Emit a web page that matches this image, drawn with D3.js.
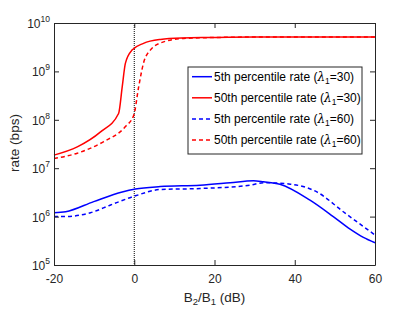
<!DOCTYPE html>
<html>
<head>
<meta charset="utf-8">
<script src="https://cdn.jsdelivr.net/npm/d3@7"></script>
<style>
  body { margin: 0; background: #fff; }
  text { font-family: "Liberation Sans", Arial, sans-serif; }
</style>
</head>
<body>
<div id="chart"></div>
<script>
// x positions (dB) and log10(rate) readings for each curve
const xRed30 = [-20, -14.2, -8.4, -3.9, -3.0, -2.2, -0.55, 2.3, 6.5, 12, 18.9, 30, 45, 60];
const yRed30 = [7.27, 7.44, 7.75, 8.13, 8.68, 9.17, 9.44, 9.58, 9.66, 9.69, 9.70, 9.71, 9.71, 9.71];

const xRed60 = [-20, -14.2, -7.6, -2.2, -0.1, 1.1, 2.3, 4.0, 7.3, 12.3, 20, 30, 45, 60];
const yRed60 = [7.20, 7.31, 7.55, 7.86, 8.10, 8.68, 9.17, 9.44, 9.61, 9.68, 9.70, 9.71, 9.71, 9.71];

const xBlue30 = [-20, -17.1, -10.1, -3.0, 0.3, 6.5, 16.4, 23.9, 29.7, 32.2, 36.3, 43.8, 49.6, 53.8, 57.1, 60];
const yBlue30 = [6.08, 6.10, 6.31, 6.51, 6.57, 6.62, 6.65, 6.70, 6.74, 6.72, 6.67, 6.34, 6.00, 5.74, 5.57, 5.46];

const xBlue60 = [-20, -17.6, -10.9, -5.9, 0.3, 6.5, 16.4, 28.9, 32.2, 38.9, 45.5, 52.1, 60];
const yBlue60 = [6.00, 6.00, 6.08, 6.24, 6.43, 6.56, 6.58, 6.65, 6.70, 6.67, 6.51, 6.10, 5.62];

const xTicks = [-20, 0, 20, 40, 60];
const yTickExps = [5, 6, 7, 8, 9, 10];

const legendLabels = [
  ["5th percentile rate (", "30)"],
  ["50th percentile rate (", "30)"],
  ["5th percentile rate (", "60)"],
  ["50th percentile rate (", "60)"]
];

const series = [
  {xs: xBlue30, ys: yBlue30, color: "#0000ff", dash: null},
  {xs: xRed30, ys: yRed30, color: "#ff0000", dash: null},
  {xs: xBlue60, ys: yBlue60, color: "#0000ff", dash: "4,3"},
  {xs: xRed60, ys: yRed60, color: "#ff0000", dash: "4,3"}
];

const W = 415, H = 312;
const margin = {top: 23, right: 40, bottom: 47, left: 54};
const width = W - margin.left - margin.right,
      height = H - margin.top - margin.bottom;

const svg = d3.select("#chart")
  .append("svg")
    .attr("width", W)
    .attr("height", H)
  .append("g")
    .attr("transform", `translate(${margin.left}, ${margin.top})`);

const x = d3.scaleLinear().domain([-20, 60]).range([0, width]);
const y = d3.scaleLog().domain([1e5, 1e10]).range([height, 0]);

// vertical dotted line at 0 dB
svg.append("line")
  .attr("x1", x(0)).attr("x2", x(0))
  .attr("y1", 0).attr("y2", height)
  .attr("stroke", "#000")
  .attr("stroke-width", 1)
  .attr("stroke-dasharray", "1,1");

const line = d3.line()
  .x(d => x(d[0]))
  .y(d => y(Math.pow(10, d[1])))
  .curve(d3.curveMonotoneX);

series.forEach(s => {
  svg.append("path")
    .datum(s.xs.map((v, i) => [v, s.ys[i]]))
    .attr("fill", "none")
    .attr("stroke", s.color)
    .attr("stroke-width", 1.5)
    .attr("stroke-dasharray", s.dash)
    .attr("d", line);
});

// axes (MATLAB style: ticks inside, on all four sides)
const axisColor = "#262626";
const xAxisB = svg.append("g")
  .attr("transform", `translate(0, ${height})`)
  .call(d3.axisBottom(x).tickValues(xTicks).tickSizeInner(-5).tickSizeOuter(0)
    .tickPadding(9).tickFormat(d => String(d)));
const xAxisT = svg.append("g")
  .call(d3.axisTop(x).tickValues(xTicks).tickSizeInner(-5).tickSizeOuter(0).tickFormat(""));

const yVals = yTickExps.map(e => Math.pow(10, e));
const yAxisL = svg.append("g")
  .call(d3.axisLeft(y).tickValues(yVals).tickSizeInner(-5).tickSizeOuter(0).tickFormat(""));
const yAxisR = svg.append("g")
  .attr("transform", `translate(${width}, 0)`)
  .call(d3.axisRight(y).tickValues(yVals).tickSizeInner(-5).tickSizeOuter(0).tickFormat(""));

[xAxisB, xAxisT, yAxisL, yAxisR].forEach(a => {
  a.selectAll("path, line").attr("stroke", axisColor);
  a.select(".domain").attr("stroke-width", 1);
});
xAxisB.selectAll("text")
  .attr("font-size", 12)
  .attr("fill", axisColor);

// y tick labels as 10^n
yTickExps.forEach(e => {
  const t = svg.append("text")
    .attr("x", -4)
    .attr("y", y(Math.pow(10, e)) + 5)
    .attr("text-anchor", "end")
    .attr("font-size", 12)
    .attr("fill", axisColor);
  t.append("tspan").text("10");
  t.append("tspan").attr("dy", -6).attr("font-size", 8.5).text(e);
});

// axis labels
svg.append("text")
  .attr("transform", `translate(-35, ${height / 2 - 1}) rotate(-90)`)
  .attr("text-anchor", "middle")
  .attr("font-size", 13.5)
  .attr("fill", axisColor)
  .text("rate (bps)");

const xl = svg.append("text")
  .attr("x", width / 2)
  .attr("y", height + 37)
  .attr("text-anchor", "middle")
  .attr("font-size", 13.5)
  .attr("fill", axisColor);
xl.append("tspan").text("B");
xl.append("tspan").attr("dy", 3).attr("font-size", 9.5).text("2");
xl.append("tspan").attr("dy", -3).text("/B");
xl.append("tspan").attr("dy", 3).attr("font-size", 9.5).text("1");
xl.append("tspan").attr("dy", -3).text(" (dB)");

// legend
const lg = svg.append("g")
  .attr("transform", `translate(${188 - margin.left}, ${67 - margin.top})`);
lg.append("rect")
  .attr("width", 174).attr("height", 87)
  .attr("fill", "#fff")
  .attr("stroke", axisColor)
  .attr("stroke-width", 1);
legendLabels.forEach((lab, i) => {
  const s = series[i];
  const cy = 9.7 + i * 21.1;
  lg.append("line")
    .attr("x1", 4).attr("x2", 24)
    .attr("y1", cy).attr("y2", cy)
    .attr("stroke", s.color)
    .attr("stroke-width", 1.5)
    .attr("stroke-dasharray", s.dash);
  const t = lg.append("text")
    .attr("x", 26)
    .attr("y", cy + 4)
    .attr("font-size", 12)
    .attr("fill", "#000");
  t.append("tspan").text(lab[0]);
  t.append("tspan").attr("font-family", "'DejaVu Serif', serif").attr("font-style", "italic").text("\u03bb");
  t.append("tspan").attr("dy", 3).attr("font-size", 8.5).text("1");
  t.append("tspan").attr("dy", -3).text("=" + lab[1]);
});
</script>
</body>
</html>
